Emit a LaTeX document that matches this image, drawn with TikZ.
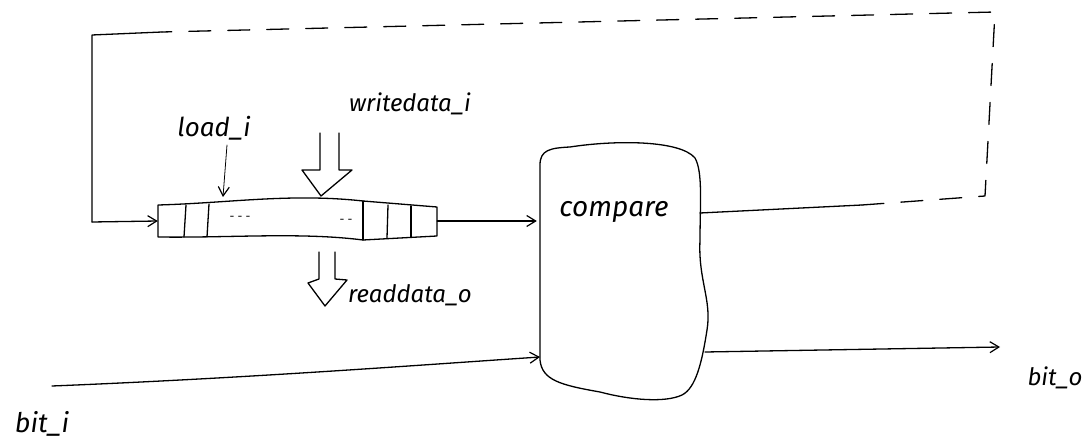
\documentclass[tikz,border=0pt]{standalone}
\usepackage{fontspec}
\setmainfont{Fira Sans}
\usetikzlibrary{arrows.meta,calc}
\begin{document}
\begin{tikzpicture}[x=1pt,y=-1pt,
  wire/.style={line width=1.3pt,line cap=round,line join=round},
  arr/.style={wire,-{Straight Barb[length=9pt,width=11pt,line width=1.2pt]}},
  dashwire/.style={wire,dash pattern=on 22pt off 17pt},
  lbl/.style={font=\fontsize{24}{28}\selectfont\itshape,inner sep=0pt},
  box/.style={draw=none,inner sep=0pt}]
\useasboundingbox (0,0) rectangle (1087,443);

% register (bulged outline)
\node[box,minimum width=279pt,minimum height=32pt] (reg) at (297.5,221) {};
\draw[wire] (158,205) .. controls (230,203) and (290,193) .. (363,201)
  -- (437,207) -- (437,236) -- (363,240)
  .. controls (300,232) and (230,238) .. (158,237) -- cycle;
\draw[wire] (186,205) -- (184,237);
\draw[wire] (209,204) -- (207,237);
\draw[wire] (363,201) -- (363,240);
\draw[wire] (388,205) -- (387,238);
\draw[wire] (411,206) -- (411,237);
\node[lbl,font=\large] (dl) at (240,218) {- - -};
\node[lbl,font=\large] (dr) at (346,221) {- -};

% compare block
\node[box,minimum width=168pt,minimum height=255pt] (cmp) at (621,270) {};
\draw[wire] (540,165) .. controls (540,150) and (550,148) .. (570,147)
  .. controls (615,140) and (680,140) .. (695,158)
  .. controls (703,172) and (700,205) .. (700,240)
  .. controls (698,280) and (712,300) .. (707,330)
  .. controls (702,362) and (696,388) .. (682,395)
  .. controls (665,403) and (630,400) .. (600,392)
  .. controls (560,385) and (542,380) .. (540,360)
  -- cycle;
\node[lbl,font=\fontsize{28}{32}\selectfont\itshape] (cmpt) at (614,212) {compare};

% labels
\node[lbl,font=\fontsize{26}{30}\selectfont\itshape] (load) at (214,128) {load\_i};
\node[lbl] (wd) at (410,104) {writedata\_i};
\node[lbl,anchor=west] (rd) at (348,295) {readdata\_o};
\node[lbl,font=\fontsize{27}{31}\selectfont\itshape] (bi) at (42,424) {bit\_i};
\node[lbl] (bo) at (1055,378) {bit\_o};

% load arrow
\coordinate (ls) at (227,145);
\draw[arr,line width=0.8pt] (ls) -- (223,197);

% writedata hollow arrow
\draw[wire] (320,133) -- (320,170) -- (302,170) -- (321,196) -- (352,170) -- (339,170) -- (339,133);

% readdata hollow arrow
\draw[wire] (319,252) -- (319,279) -- (308,283) -- (325,306) -- (347,280) -- (335,279) -- (335,252);

% register -> compare
\draw[arr] (reg.east) -- (reg.east -| cmp.west);

% feedback loop
\coordinate (f1) at (862,205);
\coordinate (f2) at (985,196);
\coordinate (f3) at (995,12);
\coordinate (f4) at (162,32);
\coordinate (f5) at (92,35);
\draw[wire] (700,213) -- (f1);
\draw[dashwire] (f1) -- (f2) -- (f3) -- (f4);
\draw[wire] (f4) -- (f5) -- (92,222);
\draw[arr] (92,222) -- (reg.west);

% bit_i
\coordinate (bis) at (52,386);
\draw[arr] (bis) .. controls (250,378) and (420,365) .. (540,357);

% bit_o
\coordinate (boe) at (1000,347);
\draw[arr] (705,352) -- (boe);
\end{tikzpicture}
\end{document}
